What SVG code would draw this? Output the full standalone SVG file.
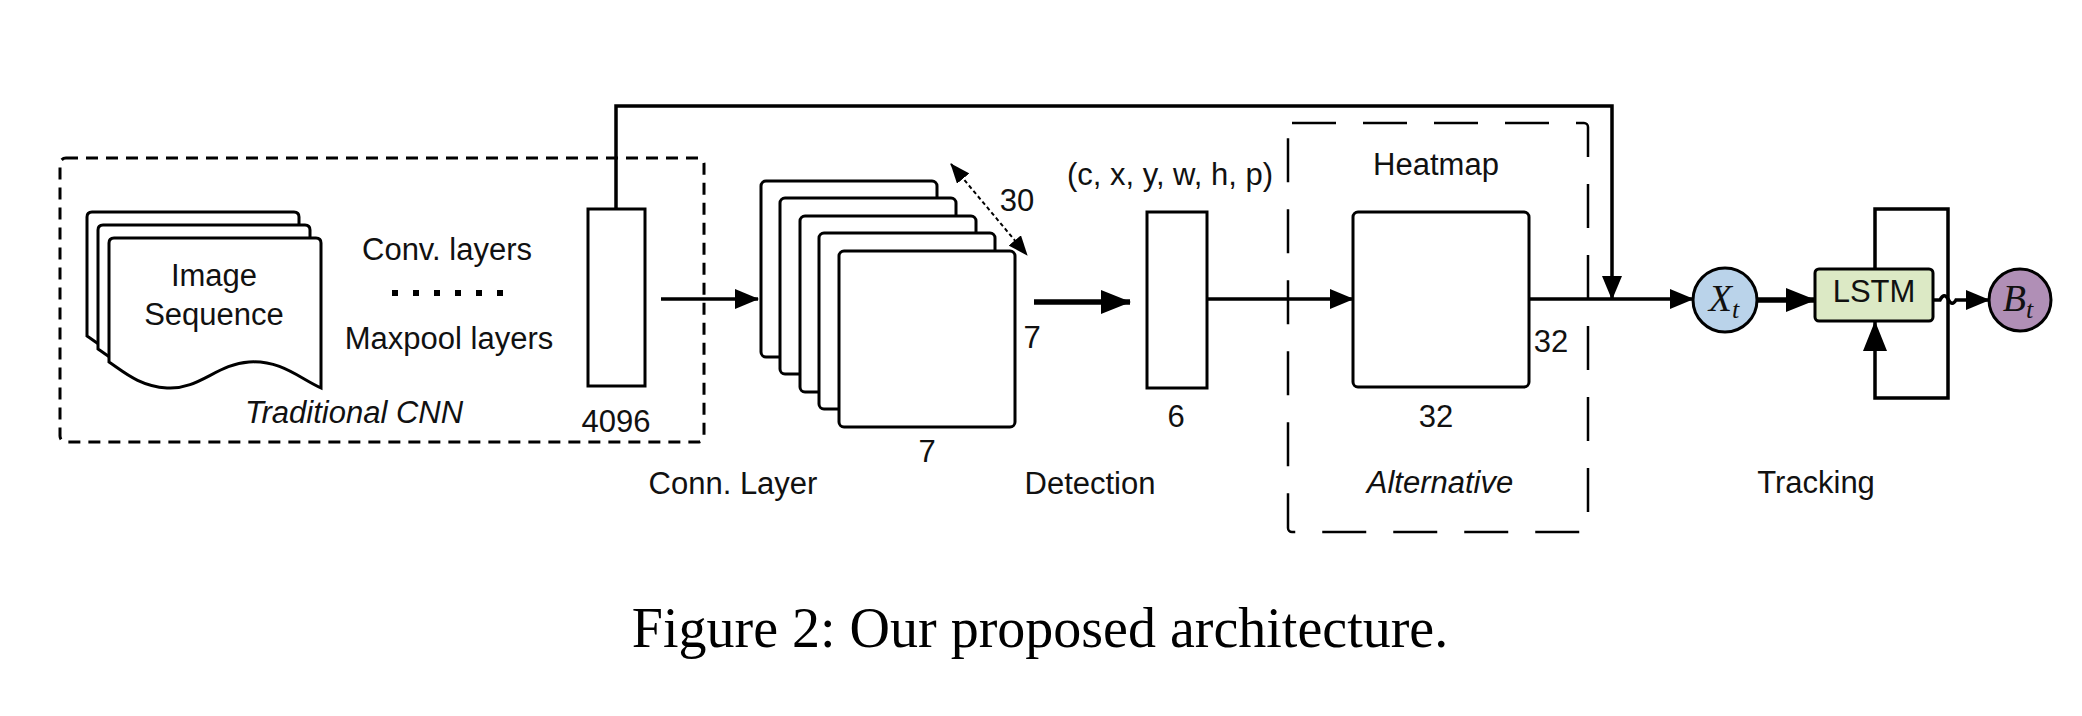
<svg xmlns="http://www.w3.org/2000/svg" width="2082" height="716" viewBox="0 0 2082 716">
<style>
text{font-family:"Liberation Sans",Arial,sans-serif;font-size:31px;fill:#111}
.it{font-style:italic}
.c{text-anchor:middle}
.box{fill:#fff;stroke:#000;stroke-width:3}
.ln{fill:none;stroke:#000;stroke-width:3.5}
.thick{fill:none;stroke:#000;stroke-width:5.5}
text.var{font-family:"Liberation Serif","Times New Roman",serif;font-style:italic;font-size:38px}
tspan.sub{font-size:26px}
text.cap{font-family:"Liberation Serif","Times New Roman",serif;font-size:56px;fill:#000}
</style>
<defs>
<marker id="ah" markerUnits="userSpaceOnUse" markerWidth="24" markerHeight="20" refX="23" refY="10" orient="auto"><path d="M0,0 L24,10 L0,20 z" fill="#000"/></marker>
<marker id="ahT" markerUnits="userSpaceOnUse" markerWidth="30" markerHeight="24" refX="29" refY="12" orient="auto"><path d="M0,0 L30,12 L0,24 z" fill="#000"/></marker>
<marker id="ahS" markerUnits="userSpaceOnUse" markerWidth="20" markerHeight="16" refX="19" refY="8" orient="auto-start-reverse"><path d="M0,0 L20,8 L0,16 z" fill="#000"/></marker>
<path id="doc" d="M0,5 Q0,0 5,0 L207,0 Q212,0 212,5 L212,150 C190,140 172,122 140,124 C108,126 90,152 58,150 C30,148 15,134 0,124 Z"/>
</defs>

<g id="traditional-cnn">
<rect x="60" y="158" width="644" height="284" rx="6" fill="none" stroke="#000" stroke-width="3" stroke-dasharray="12 8"/>
<text class="c it" x="354" y="423">Traditional CNN</text>
</g>

<g id="image-sequence">
<use href="#doc" x="87" y="212" class="box"/>
<use href="#doc" x="98" y="225" class="box"/>
<use href="#doc" x="109" y="238" class="box"/>
<text class="c" x="214" y="286">Image</text>
<text class="c" x="214" y="325">Sequence</text>
</g>

<g id="conv-layers">
<text class="c" x="447" y="260">Conv. layers</text>
<g fill="#000">
<rect x="392" y="290" width="6" height="6"/><rect x="413" y="290" width="6" height="6"/><rect x="434" y="290" width="6" height="6"/><rect x="455" y="290" width="6" height="6"/><rect x="476" y="290" width="6" height="6"/><rect x="497" y="290" width="6" height="6"/>
</g>
<text class="c" x="449" y="349">Maxpool layers</text>
</g>

<g id="fc4096">
<rect x="588" y="209" width="57" height="177" class="box"/>
<text class="c" x="616" y="432">4096</text>
</g>

<g id="conn-layer">
<rect x="761" y="181" width="176" height="176" rx="5" class="box"/>
<rect x="780" y="198" width="176" height="176" rx="5" class="box"/>
<rect x="800" y="216" width="176" height="176" rx="5" class="box"/>
<rect x="819" y="233" width="176" height="176" rx="5" class="box"/>
<rect x="839" y="251" width="176" height="176" rx="5" class="box"/>
<line x1="951" y1="164" x2="1027" y2="255" stroke="#000" stroke-width="2" stroke-dasharray="4 3" marker-start="url(#ahS)" marker-end="url(#ahS)"/>
<text class="c" x="1017" y="211">30</text>
<text class="c" x="1032" y="348">7</text>
<text class="c" x="927" y="462">7</text>
<text class="c" x="733" y="494">Conn. Layer</text>
</g>

<g id="detection">
<rect x="1147" y="212" width="60" height="176" class="box"/>
<text class="c" x="1170" y="185">(c, x, y, w, h, p)</text>
<text class="c" x="1176" y="427">6</text>
<text class="c" x="1090" y="494">Detection</text>
</g>

<g id="alternative">
<rect x="1288" y="123" width="300" height="409" rx="4" fill="none" stroke="#000" stroke-width="2.5" stroke-dasharray="44 27"/>
<text class="c" x="1436" y="175">Heatmap</text>
<rect x="1353" y="212" width="176" height="175" rx="5" class="box"/>
<text class="c" x="1551" y="352">32</text>
<text class="c" x="1436" y="427">32</text>
<text class="c it" x="1440" y="493">Alternative</text>
</g>

<g id="xt">
<circle cx="1725" cy="300" r="32" fill="#bad3ea" stroke="#000" stroke-width="3"/>
<text class="c var" x="1724" y="311">X<tspan class="sub" dy="7">t</tspan></text>
</g>

<g id="lstm">
<rect x="1815" y="269" width="118" height="52" rx="4" fill="#dce9c5" stroke="#000" stroke-width="3"/>
<text class="c" x="1874" y="302">LSTM</text>
</g>

<g id="bt">
<circle cx="2020" cy="300" r="31" fill="#b08fb6" stroke="#000" stroke-width="3"/>
<text class="c var" x="2018" y="311">B<tspan class="sub" dy="7">t</tspan></text>
</g>

<g id="tracking">
<text class="c" x="1816" y="493">Tracking</text>
</g>

<g id="connectors">
<path class="ln" d="M616,209 V106 H1612 V299" marker-end="url(#ah)"/>
<path class="ln" d="M661,299 H758" marker-end="url(#ah)"/>
<path class="thick" d="M1034,302 H1130" marker-end="url(#ahT)"/>
<path class="ln" d="M1207,299 H1353" marker-end="url(#ah)"/>
<path class="ln" d="M1529,299 H1693" marker-end="url(#ah)"/>
<path class="thick" d="M1757,300 H1815" marker-end="url(#ahT)"/>
<path class="ln" d="M1875,269 V209 H1948 V398 H1875 V322" marker-end="url(#ahT)"/>
<path class="ln" d="M1933,300 H1940 Q1944,292 1948,299 Q1952,307 1956,300 H1989" marker-end="url(#ah)"/>
</g>

<g id="caption">
<text class="c cap" x="1040" y="647">Figure 2: Our proposed architecture.</text>
</g>
</svg>
